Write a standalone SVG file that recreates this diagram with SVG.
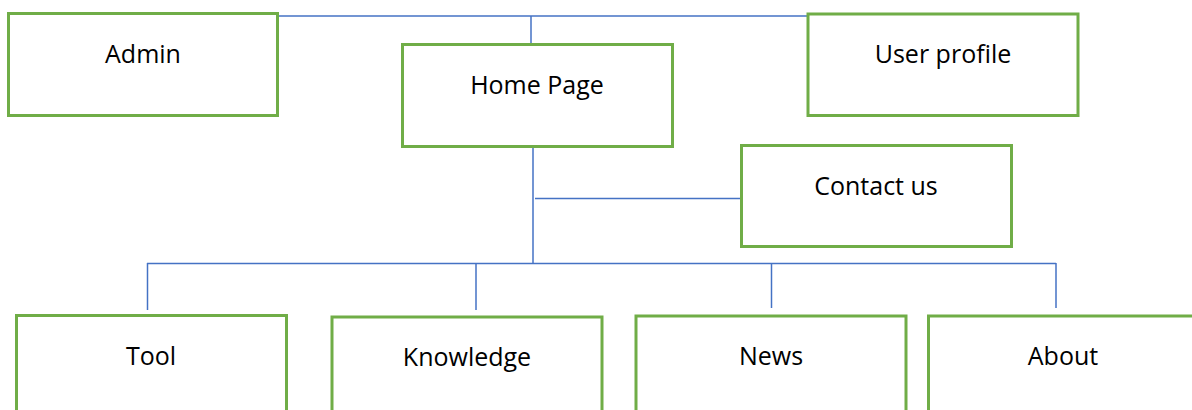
<svg xmlns="http://www.w3.org/2000/svg" width="1192" height="410" viewBox="0 0 1192 410">
<style>
.box{fill:#fff;stroke:#70AD47;stroke-width:3}
.lbl{font-family:"Open Sans","Liberation Sans",sans-serif;font-size:25px;fill:#000;text-anchor:middle}
.con{stroke:#4472C4;stroke-width:1.5;fill:none}
</style>
<rect width="1192" height="410" fill="#fff"/>
<g id="connectors">
<line class="con" x1="277" y1="16" x2="808" y2="16"/>
<line class="con" x1="531" y1="16" x2="531" y2="44"/>
<line class="con" x1="533" y1="147" x2="533" y2="264"/>
<line class="con" x1="535" y1="198.5" x2="742" y2="198.5"/>
<line class="con" x1="147" y1="263.5" x2="1056" y2="263.5"/>
<line class="con" x1="147.5" y1="263" x2="147.5" y2="310"/>
<line class="con" x1="476" y1="263" x2="476" y2="310"/>
<line class="con" x1="771.5" y1="263" x2="771.5" y2="308"/>
<line class="con" x1="1056" y1="263" x2="1056" y2="308"/>
</g>
<g id="admin"><rect class="box" x="8.5" y="13.5" width="269" height="102"/><text class="lbl" x="143" y="63">Admin</text></g>
<g id="home"><rect class="box" x="402.5" y="44.5" width="270" height="102"/><text class="lbl" x="537" y="94">Home Page</text></g>
<g id="userprofile"><rect class="box" x="808" y="14" width="270" height="101.5"/><text class="lbl" x="943" y="63">User profile</text></g>
<g id="contact"><rect class="box" x="741.5" y="145.5" width="270" height="101"/><text class="lbl" x="876" y="195">Contact us</text></g>
<g id="tool"><rect class="box" x="16.5" y="315.5" width="270" height="110"/><text class="lbl" x="151" y="365">Tool</text></g>
<g id="knowledge"><rect class="box" x="332" y="317" width="270" height="110"/><text class="lbl" x="467" y="366">Knowledge</text></g>
<g id="news"><rect class="box" x="636" y="316" width="270" height="110"/><text class="lbl" x="771" y="365">News</text></g>
<g id="about"><rect class="box" x="928.5" y="316" width="270" height="110"/><text class="lbl" x="1063" y="365">About</text></g>
</svg>
